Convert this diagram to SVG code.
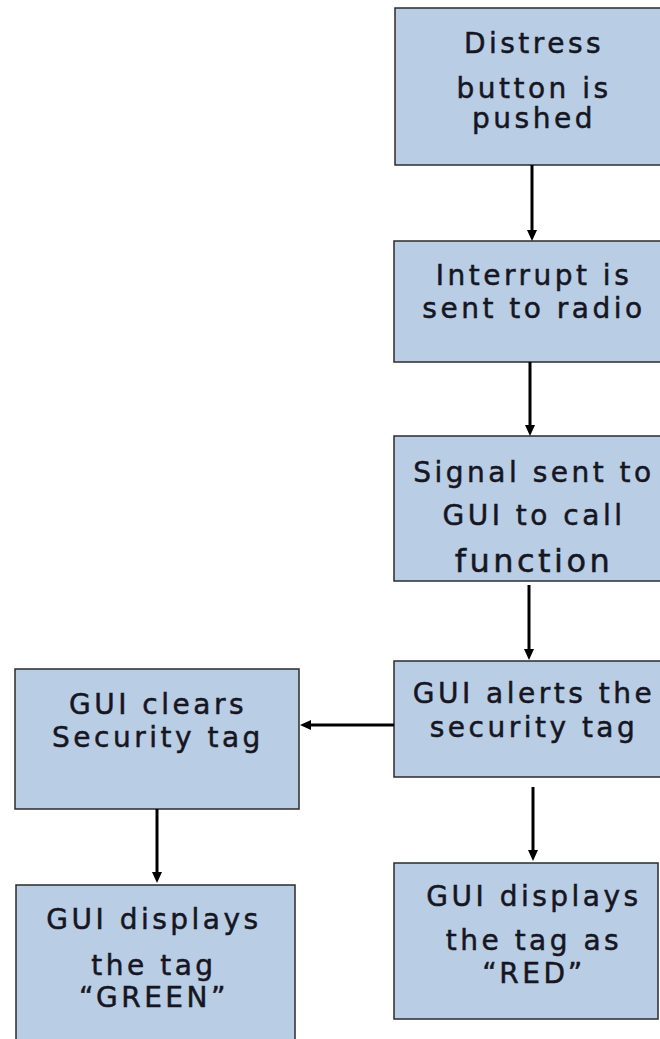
<svg xmlns="http://www.w3.org/2000/svg" width="660" height="1039" viewBox="0 0 660 1039">
<style>
.box{fill:#b9cde5;stroke:#2b2b2b;stroke-width:1.5}
.t{font-family:"DejaVu Sans",Verdana,sans-serif;font-size:28px;letter-spacing:3.5px;fill:#161622;stroke:#161622;stroke-width:0.5;text-anchor:middle}
.big{font-size:32px}
.c{stroke:#000;stroke-width:3;fill:none;marker-end:url(#ah)}
</style>
<defs>
<marker id="ah" markerUnits="userSpaceOnUse" markerWidth="12" markerHeight="12" refX="0" refY="6" orient="auto" viewBox="0 0 12 12">
<path d="M0,1 L11,6 L0,11 z" fill="#000"/>
</marker>
</defs>
<rect width="660" height="1039" fill="#fff"/>
<g id="n1"><rect class="box" x="395" y="8" width="280" height="157"/>
<text class="t" x="534" y="53">Distress</text><text class="t" x="534" y="98">button is</text><text class="t" x="534" y="128">pushed</text></g>
<g id="n2"><rect class="box" x="394" y="241" width="280" height="121"/>
<text class="t" x="534" y="285">Interrupt is</text><text class="t" x="534" y="318">sent to radio</text></g>
<g id="n3"><rect class="box" x="394" y="436" width="280" height="145"/>
<text class="t" x="534" y="482">Signal sent to</text><text class="t" x="534" y="525">GUI to call</text><text class="t big" x="534" y="572">function</text></g>
<g id="n4"><rect class="box" x="394" y="661" width="280" height="116"/>
<text class="t" x="534" y="703">GUI alerts the</text><text class="t" x="534" y="737">security tag</text></g>
<g id="n5"><rect class="box" x="15" y="669" width="284" height="140"/>
<text class="t" x="158" y="714">GUI clears</text><text class="t" x="158" y="747">Security tag</text></g>
<g id="n6"><rect class="box" x="16" y="885" width="279" height="170"/>
<text class="t" x="154" y="929">GUI displays</text><text class="t" x="154" y="975">the tag</text><text class="t" x="154" y="1007">“GREEN”</text></g>
<g id="n7"><rect class="box" x="394" y="863" width="264" height="156"/>
<text class="t" x="534" y="906">GUI displays</text><text class="t" x="534" y="950">the tag as</text><text class="t" x="534" y="983">“RED”</text></g>
<g id="connectors">
<line class="c" x1="532" y1="165" x2="532" y2="230"/>
<line class="c" x1="530" y1="362" x2="530" y2="425"/>
<line class="c" x1="529" y1="585" x2="529" y2="649"/>
<line class="c" x1="394" y1="725" x2="311" y2="725"/>
<line class="c" x1="533" y1="787" x2="533" y2="850"/>
<line class="c" x1="157" y1="809" x2="157" y2="872"/>
</g>
</svg>
